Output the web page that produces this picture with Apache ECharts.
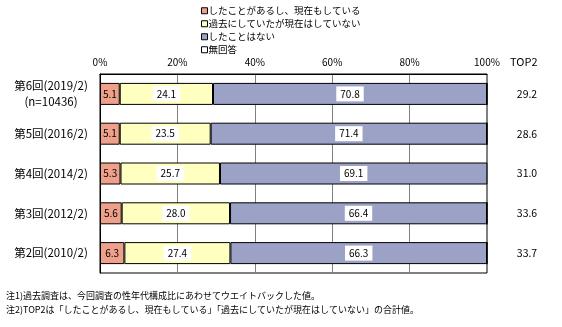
<!DOCTYPE html>
<html><head><meta charset="utf-8">
<script src="https://cdn.jsdelivr.net/npm/echarts@6/dist/echarts.min.js"></script>
<style>html,body{margin:0;padding:0;background:#fff}#c{width:562px;height:327px}</style>
</head><body><div id="c"></div>
<script>
const categories = ['第6回(2019/2)\n(n=10436)', '第5回(2016/2)', '第4回(2014/2)', '第3回(2012/2)', '第2回(2010/2)'];
const seriesNames = ['したことがあるし、現在もしている', '過去にしていたが現在はしていない', 'したことはない', '無回答'];
const doing = [5.1, 5.1, 5.3, 5.6, 6.3];
const past = [24.1, 23.5, 25.7, 28.0, 27.4];
const never = [70.8, 71.4, 69.1, 66.4, 66.3];
const noAnswer = [0, 0, 0, 0, 0];
const top2 = ['29.2', '28.6', '31.0', '33.6', '33.7'];
const xTicks = [0, 20, 40, 60, 80, 100];
const notes = ['注1)過去調査は、今回調査の性年代構成比にあわせてウエイトバックした値。',
  '注2)TOP2は「したことがあるし、現在もしている」「過去にしていたが現在はしていない」の合計値。'];

const FONT = '"Noto Sans CJK JP", sans-serif';
const colors = ['#EFA08A', '#FFFFC0', '#9BA2C6', '#FFFFFF'];
const values = [doing, past, never, noAnswer];

const chart = echarts.init(document.getElementById('c'), null, {renderer: 'canvas'});
const series = values.map((vals, i) => {
  const label = {
    show: i < 3,
    position: 'inside',
    formatter: p => p.value.toFixed(1),
    color: '#000',
    fontFamily: FONT,
    fontSize: 10,
    textBorderWidth: 0
  };
  if (i > 0) { label.backgroundColor = '#fff'; label.padding = [3, 4, 2, 4]; }
  return {
    name: seriesNames[i],
    type: 'bar',
    stack: 'total',
    barWidth: 22,
    data: vals,
    itemStyle: {color: colors[i], borderColor: '#000', borderWidth: 1},
    label: label
  };
});

chart.setOption({
  animation: false,
  textStyle: {fontFamily: FONT},
  legend: {
    orient: 'vertical', left: 196, top: 1,
    itemWidth: 6, itemHeight: 6, itemGap: 3.5,
    icon: 'rect',
    itemStyle: {borderColor: '#000', borderWidth: 1},
    textStyle: {fontFamily: FONT, fontSize: 9.5, color: '#000', padding: [0, 0, 0, -4]},
    data: seriesNames
  },
  grid: {left: 100, right: 75, top: 74, bottom: 54, show: true, borderColor: '#000', borderWidth: 1, containLabel: false},
  xAxis: {
    type: 'value', position: 'top', min: 0, max: 100, interval: 20,
    axisLine: {show: true, lineStyle: {color: '#000'}},
    axisTick: {show: false},
    splitLine: {show: true, lineStyle: {color: '#808080', width: 1}},
    axisLabel: {formatter: v => xTicks.includes(v) ? v + '%' : '', color: '#000', fontSize: 10, fontFamily: FONT, margin: 7}
  },
  yAxis: [{
    type: 'category', inverse: true, data: categories,
    axisLine: {show: true, lineStyle: {color: '#000'}},
    axisTick: {show: false},
    axisLabel: {color: '#000', fontSize: 11.5, fontFamily: FONT, align: 'center', margin: 49, lineHeight: 16}
  }, {
    type: 'category', inverse: true, data: categories, position: 'right',
    axisLine: {show: false}, axisTick: {show: false},
    axisLabel: {formatter: (v, i) => top2[i], color: '#000', fontSize: 10.5, fontFamily: FONT, align: 'center', margin: 40}
  }],
  graphic: [
    {type: 'text', left: 510, top: 56, style: {text: 'TOP2', font: '11px ' + FONT, fill: '#000'}},
    {type: 'text', left: 6, top: 291, style: {text: notes[0], font: '9px ' + FONT, fill: '#000'}},
    {type: 'text', left: 6, top: 305, style: {text: notes[1], font: '9px ' + FONT, fill: '#000'}}
  ],
  series: series
});
</script></body></html>
